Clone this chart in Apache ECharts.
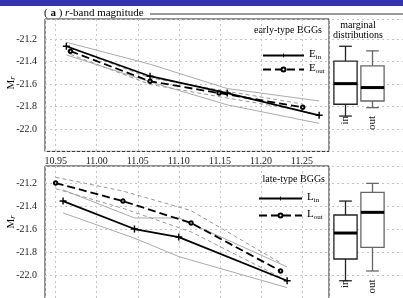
<!DOCTYPE html>
<html>
<head>
<meta charset="utf-8">
<script src="https://cdn.jsdelivr.net/npm/echarts@6/dist/echarts.min.js"></script>
<style>
html,body{margin:0;padding:0;background:#fff}
#chart{width:403px;height:298px}
</style>
</head>
<body>
<div id="chart"></div>
<script>
// early-type BGGs (top panel)
const eInX = [10.963, 11.065, 11.159, 11.271]
const eInY = [-21.263, -21.530, -21.680, -21.878]
const eInHi = [-21.227, -21.423, -21.640, -21.750]
const eInLo = [-21.340, -21.580, -21.785, -21.950]
const eOutX = [10.968, 11.065, 11.149, 11.251]
const eOutY = [-21.307, -21.575, -21.680, -21.807]
const eOutHi = [-21.280, -21.545, -21.652, -21.778]
const eOutLo = [-21.335, -21.603, -21.712, -21.838]

// late-type BGGs (bottom panel)
const lInX = [10.959, 11.046, 11.100, 11.232]
const lInY = [-21.357, -21.600, -21.670, -22.050]
const lInHi = [-21.260, -21.504, -21.504, -21.930]
const lInLo = [-21.460, -21.680, -21.840, -22.110]
const lOutX = [10.950, 11.032, 11.115, 11.224]
const lOutY = [-21.200, -21.357, -21.548, -21.965]
const lOutHi = [-21.150, -21.270, -21.440, -21.895]
const lOutLo = [-21.250, -21.420, -21.625, -22.020]

// marginal boxes: [lower whisker, Q1, median, Q3, upper whisker]
const boxNames = ['in', 'out']
const earlyBox = [[-21.885, -21.780, -21.596, -21.396, -21.263], [-21.810, -21.751, -21.631, -21.438, -21.304]]
const lateBox = [[-22.050, -21.861, -21.635, -21.478, -21.357], [-21.965, -21.759, -21.455, -21.281, -21.203]]

const xTickLabels = ['10.95', '11.00', '11.05', '11.10', '11.15', '11.20', '11.25']
const yTickLabels = ['-21.2', '-21.4', '-21.6', '-21.8', '-22.0']

const serif = 'Liberation Serif'
const plus = 'path://M4,0H6V4H10V6H6V10H4V6H0V4H4Z'
const zip = (xs, ys) => xs.map((x, i) => [x, ys[i]])

const gridLine = {show: true, lineStyle: {color: '#c4c4c4', type: [2, 3], width: 1}}

function mainX(showLabels) {
  return {
    type: 'value', min: 10.937, max: 11.283, minInterval: 0.05, maxInterval: 0.05,
    axisLine: {show: false}, axisTick: {show: false}, splitLine: gridLine,
    axisLabel: {
      show: showLabels, margin: 5, fontFamily: serif, fontSize: 10, color: '#222',
      formatter: v => xTickLabels.includes(v.toFixed(2)) ? v.toFixed(2) : ''
    }
  }
}
function mainY(min, max, showLabels) {
  return {
    type: 'value', min: min, max: max, minInterval: 0.2, maxInterval: 0.2,
    axisLine: {show: false}, axisTick: {show: false}, splitLine: gridLine,
    axisLabel: {
      show: showLabels, margin: 8, fontFamily: serif, fontSize: 10, color: '#222',
      formatter: v => yTickLabels.includes(v.toFixed(1)) ? v.toFixed(1) : ''
    }
  }
}
function boxX(offset) {
  return {
    type: 'category', data: boxNames.concat(['']), offset: offset,
    axisLine: {show: false}, axisTick: {show: false}, splitLine: {show: false},
    axisLabel: {interval: 0, rotate: 90, margin: 2, fontFamily: serif, fontSize: 11, color: '#222'}
  }
}

function line(name, xs, ys, idx, style, symbol) {
  return {
    name: name, type: 'line', xAxisIndex: idx, yAxisIndex: idx,
    data: zip(xs, ys), lineStyle: style,
    symbol: symbol || 'none', symbolSize: symbol === plus ? 7 : 3.5,
    itemStyle: {color: '#000', borderColor: '#000', borderWidth: symbol === plus ? 0 : 1.2},
    silent: true, z: symbol ? 3 : 2
  }
}
const envSolid = {color: '#aaa', width: 1}
const envDash = {color: '#999', width: 1, type: [4, 3]}
const mainSolid = {color: '#000', width: 1.8}
const mainDash = {color: '#000', width: 1.8, type: [8, 4]}

function boxItem(params, api) {
  const i = api.value(0)
  const p = k => api.coord([i, api.value(k)])
  const lo = p(1), q1 = p(2), md = p(3), q3 = p(4), hi = p(5)
  const band = api.size([1, 0])[0]
  const hw = band * 0.43, cw = band * 0.235
  const c = params.dataIndex === 0 ? '#222' : '#666'
  const st = {stroke: c, lineWidth: 1.3, fill: null}
  const x = md[0]
  return {type: 'group', children: [
    {type: 'line', shape: {x1: x, y1: hi[1], x2: x, y2: q3[1]}, style: st},
    {type: 'line', shape: {x1: x, y1: q1[1], x2: x, y2: lo[1]}, style: st},
    {type: 'line', shape: {x1: x - cw, y1: hi[1], x2: x + cw, y2: hi[1]}, style: st},
    {type: 'line', shape: {x1: x - cw, y1: lo[1], x2: x + cw, y2: lo[1]}, style: st},
    {type: 'rect', shape: {x: x - hw, y: q3[1], width: 2 * hw, height: q1[1] - q3[1]}, style: {stroke: c, lineWidth: 1.3, fill: '#fff'}},
    {type: 'line', shape: {x1: x - hw, y1: md[1], x2: x + hw, y2: md[1]}, style: {stroke: '#000', lineWidth: 3}}
  ]}
}

const legendText = {
  fontFamily: serif, color: '#000',
  rich: {
    m: {fontFamily: serif, fontSize: 11, lineHeight: 10, padding: [0, 0, 2, 0]},
    s: {fontFamily: serif, fontSize: 7, lineHeight: 7, verticalAlign: 'bottom'}
  }
}
const legendFmt = name => '{m|' + name[0] + '}{s|' + name.slice(2) + '}'

const chart = echarts.init(document.getElementById('chart'))
chart.setOption({
  animation: false,
  grid: [
    {left: 45, top: 19, width: 284, height: 132.4, show: true, borderColor: '#222', borderWidth: 1, outerBoundsMode: 'none'},
    {left: 45, top: 166, width: 284, height: 155, show: true, borderColor: '#222', borderWidth: 1, outerBoundsMode: 'none'},
    {left: 332, top: 19, width: 81, height: 132.4, outerBoundsMode: 'none'},
    {left: 332, top: 166, width: 81, height: 155, outerBoundsMode: 'none'}
  ],
  xAxis: [
    Object.assign(mainX(true), {gridIndex: 0}),
    Object.assign(mainX(false), {gridIndex: 1}),
    Object.assign(boxX(-37.5), {gridIndex: 2}),
    Object.assign(boxX(-43.5), {gridIndex: 3})
  ],
  yAxis: [
    Object.assign(mainY(-22.2, -21.02, true), {gridIndex: 0}),
    Object.assign(mainY(-22.4, -21.052, true), {gridIndex: 1}),
    Object.assign(mainY(-22.2, -21.02, false), {gridIndex: 2}),
    Object.assign(mainY(-22.4, -21.052, false), {gridIndex: 3})
  ],
  legend: [
    {data: ['E_in', 'E_out'], orient: 'vertical', left: 257, top: 44, itemWidth: 41, itemHeight: 5, itemGap: 1,
      formatter: legendFmt, textStyle: legendText, selectedMode: false},
    {data: ['L_in', 'L_out'], orient: 'vertical', left: 253, top: 187, itemWidth: 43, itemHeight: 5, itemGap: 4,
      formatter: legendFmt, textStyle: legendText, selectedMode: false}
  ],
  series: [
    line('E_in hi', eInX, eInHi, 0, envSolid),
    line('E_in lo', eInX, eInLo, 0, envSolid),
    line('E_out hi', eOutX, eOutHi, 0, envDash),
    line('E_out lo', eOutX, eOutLo, 0, envDash),
    line('E_out', eOutX, eOutY, 0, mainDash, 'emptyCircle'),
    line('E_in', eInX, eInY, 0, mainSolid, plus),
    line('L_in hi', lInX, lInHi, 1, envSolid),
    line('L_in lo', lInX, lInLo, 1, envSolid),
    line('L_out hi', lOutX, lOutHi, 1, envDash),
    line('L_out lo', lOutX, lOutLo, 1, envDash),
    line('L_out', lOutX, lOutY, 1, mainDash, 'emptyCircle'),
    line('L_in', lInX, lInY, 1, mainSolid, plus),
    {type: 'custom', xAxisIndex: 2, yAxisIndex: 2, renderItem: boxItem, silent: true,
      data: earlyBox.map((b, i) => [i].concat(b))},
    {type: 'custom', xAxisIndex: 3, yAxisIndex: 3, renderItem: boxItem, silent: true,
      data: lateBox.map((b, i) => [i].concat(b))}
  ],
  graphic: [
    {type: 'rect', shape: {x: 0, y: 0, width: 403, height: 6}, style: {fill: '#3434b0'}},
    {type: 'text', x: 44, y: 13, style: {
      text: '{p|( }{b|a}{p| ) }{i|r}{p|-band magnitude}', verticalAlign: 'middle',
      rich: {
        p: {fontFamily: serif, fontSize: 11, fill: '#000'},
        b: {fontFamily: serif, fontSize: 11, fontWeight: 'bold', fill: '#000'},
        i: {fontFamily: serif, fontSize: 11, fontStyle: 'italic', fill: '#000'}
      }}},
    {type: 'line', shape: {x1: 150, y1: 14, x2: 403, y2: 14}, style: {stroke: '#333', lineWidth: 1}},
    {type: 'text', x: 322, y: 30, style: {text: 'early-type BGGs', fontFamily: serif, fontSize: 10, fill: '#000', align: 'right', verticalAlign: 'middle'}},
    {type: 'text', x: 325, y: 179, style: {text: 'late-type BGGs', fontFamily: serif, fontSize: 10, fill: '#000', align: 'right', verticalAlign: 'middle'}},
    {type: 'text', x: 358, y: 25, style: {text: 'marginal', fontFamily: serif, fontSize: 10, fill: '#000', align: 'center', verticalAlign: 'middle'}},
    {type: 'text', x: 358, y: 35, style: {text: 'distributions', fontFamily: serif, fontSize: 10, fill: '#000', align: 'center', verticalAlign: 'middle'}},
    {type: 'text', x: 11, y: 83, rotation: Math.PI / 2, style: {
      text: '{m|M}{s|r}', align: 'center', verticalAlign: 'middle',
      rich: {m: {fontFamily: serif, fontSize: 11, fill: '#000'}, s: {fontFamily: serif, fontSize: 8, fontStyle: 'italic', fill: '#000', verticalAlign: 'bottom'}}}},
    {type: 'text', x: 11, y: 222, rotation: Math.PI / 2, style: {
      text: '{m|M}{s|r}', align: 'center', verticalAlign: 'middle',
      rich: {m: {fontFamily: serif, fontSize: 11, fill: '#000'}, s: {fontFamily: serif, fontSize: 8, fontStyle: 'italic', fill: '#000', verticalAlign: 'bottom'}}}}
  ]
})
</script>
</body>
</html>
